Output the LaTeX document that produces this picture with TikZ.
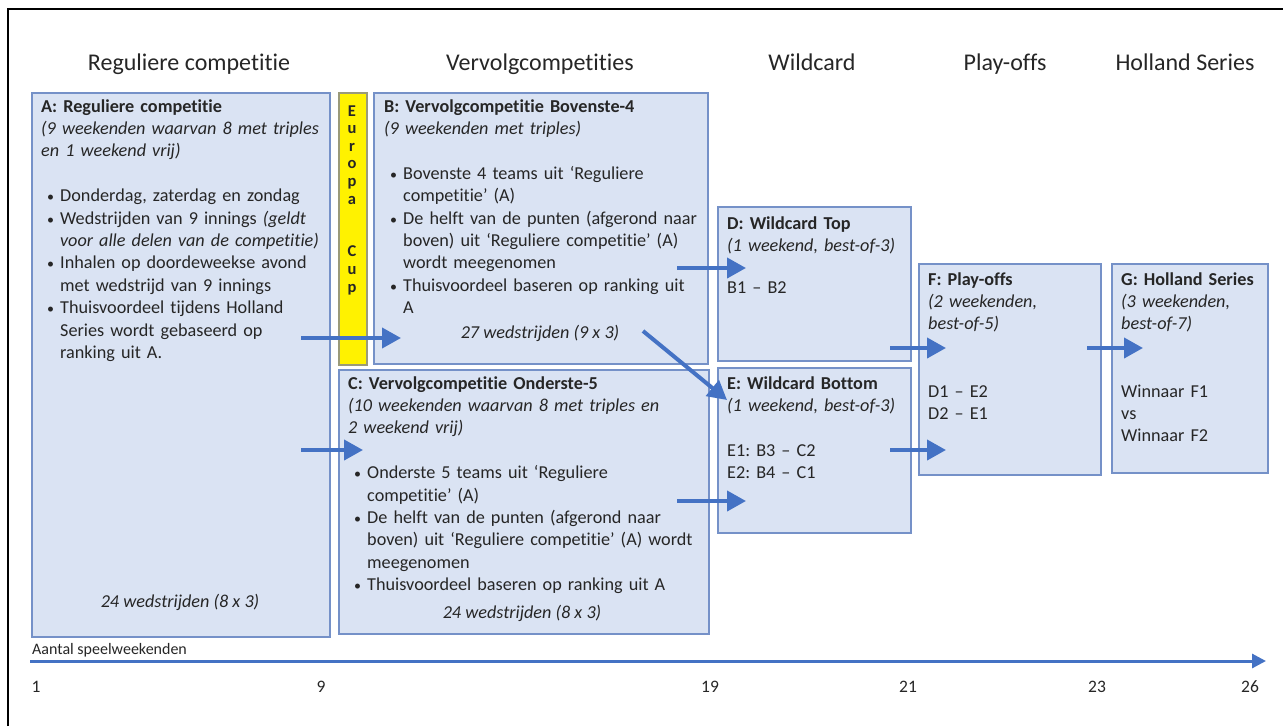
\documentclass[tikz,border=0pt]{standalone}
\usepackage{fontspec}
\setmainfont{Carlito}[RawFeature=-liga]
\usetikzlibrary{arrows.meta,calc}
\definecolor{boxfill}{HTML}{DAE3F3}
\definecolor{boxline}{HTML}{7591C8}
\definecolor{arrblue}{HTML}{4472C4}
\definecolor{txt}{HTML}{262626}
\definecolor{cupline}{HTML}{9A9A7A}
\newcommand\bul[1]{\makebox[19pt][l]{\hspace{6pt}{\fontsize{14}{14}\selectfont•}}#1}
\newcommand\cnt[1]{\hspace*{19pt}#1}
\frenchspacing
\begin{document}
\begin{tikzpicture}[x=1pt,y=-1pt,
  box/.style={draw=boxline, fill=boxfill, line width=1.6pt, anchor=north west, inner sep=0pt},
  body/.style={anchor=base west, inner sep=0pt, align=left, text width=400pt, font=\fontsize{18.2}{22.4}\selectfont, text=txt},
  ctext/.style={anchor=center, inner sep=0pt, font=\fontsize{18.2}{22.4}\selectfont\itshape, text=txt},
  head/.style={anchor=base, inner sep=0pt, font=\fontsize{24}{28}\selectfont, text=txt},
  num/.style={anchor=base, inner sep=0pt, font=\fontsize{17.5}{20}\selectfont, text=txt},
  arr/.style={draw=arrblue, line width=4pt, -{Triangle[length=19pt,width=20pt]}},
  axisline/.style={draw=arrblue, line width=3pt, -{Triangle[length=14pt,width=14pt]}},
  frame/.style={draw=black, line width=2pt}
]
\useasboundingbox (0,0) rectangle (1283,726);
% frame
\coordinate (fr0) at (8,726);
\coordinate (fr1) at (8,9);
\coordinate (fr2) at (1283,9);
\draw[frame] (fr0) -- (fr1) -- (fr2);

% headers
\node[head] (h1) at (189,70) {Reguliere competitie};
\node[head] (h2) at (540,70) {Vervolgcompetities};
\node[head] (h3) at (812,70) {Wildcard};
\node[head] (h4) at (1005,70) {Play-offs};
\node[head] (h5) at (1185,70) {Holland Series};

% boxes
\node[box, minimum width=298pt, minimum height=544pt] (A) at (31,92) {};
\node[box, draw=cupline, fill=yellow, minimum width=28pt, minimum height=272pt] (EC) at (338,92) {};
\node[box, minimum width=334pt, minimum height=271pt] (B) at (373,92) {};
\node[box, minimum width=370pt, minimum height=264pt] (C) at (338,369) {};
\node[box, minimum width=193pt, minimum height=154pt] (D) at (717,206) {};
\node[box, minimum width=193pt, minimum height=165pt] (E) at (717,367) {};
\node[box, minimum width=182pt, minimum height=211pt] (F) at (918,263) {};
\node[box, minimum width=156pt, minimum height=209pt] (G) at (1111,263) {};

% Europa Cup
\node[anchor=base, inner sep=0pt, align=center, font=\fontsize{16.5}{17.6}\selectfont\bfseries, text=txt, text width=20pt] (ECt) at (352,116)
  {E\\u\\r\\o\\p\\a\\\mbox{}\\\mbox{}\\C\\u\\p};

% Box A text
\node[body] (At) at (41,112) {\textbf{A: Reguliere competitie}\\
\textit{(9 weekenden waarvan 8 met triples}\\
\textit{en 1 weekend vrij)}\\[22.4pt]
\bul{Donderdag, zaterdag en zondag}\\
\bul{Wedstrijden van 9 innings \textit{(geldt}}\\
\cnt{\textit{voor alle delen van de competitie)}}\\
\bul{Inhalen op doordeweekse avond}\\
\cnt{met wedstrijd van 9 innings}\\
\bul{Thuisvoordeel tijdens Holland}\\
\cnt{Series wordt gebaseerd op}\\
\cnt{ranking uit A.}};
\node[ctext] (Af) at (180,602) {24 wedstrijden (8 x 3)};

% Box B text
\node[body] (Bt) at (384,112) {\textbf{B: Vervolgcompetitie Bovenste-4}\\
\textit{(9 weekenden met triples)}\\[22.4pt]
\bul{Bovenste 4 teams uit ‘Reguliere}\\
\cnt{competitie’ (A)}\\
\bul{De helft van de punten (afgerond naar}\\
\cnt{boven) uit ‘Reguliere competitie’ (A)}\\
\cnt{wordt meegenomen}\\
\bul{Thuisvoordeel baseren op ranking uit}\\
\cnt{A}};
\node[ctext] (Bf) at (540,333) {27 wedstrijden (9 x 3)};

% Box C text
\node[body] (Ct) at (348,389) {\textbf{C: Vervolgcompetitie Onderste-5}\\
\textit{(10 weekenden waarvan 8 met triples en}\\
\textit{2 weekend vrij)}\\[22.4pt]
\bul{Onderste 5 teams uit ‘Reguliere}\\
\cnt{competitie’ (A)}\\
\bul{De helft van de punten (afgerond naar}\\
\cnt{boven) uit ‘Reguliere competitie’ (A) wordt}\\
\cnt{meegenomen}\\
\bul{Thuisvoordeel baseren op ranking uit A}};
\node[ctext] (Cf) at (522,613) {24 wedstrijden (8 x 3)};

% Box D text
\node[body] (Dt) at (727,229) {\textbf{D: Wildcard Top}\\
\textit{(1 weekend, best-of-3)}\\[20pt]
B1 – B2};

% Box E text
\node[body] (Et) at (727,389) {\textbf{E: Wildcard Bottom}\\
\textit{(1 weekend, best-of-3)}\\[22.4pt]
E1: B3 – C2\\
E2: B4 – C1};

% Box F text
\node[body] (Ft) at (928,285) {\textbf{F: Play-offs}\\
\textit{(2 weekenden,}\\
\textit{best-of-5)}\\[44.8pt]
D1 – E2\\
D2 – E1};

% Box G text
\node[body] (Gt) at (1121,285) {\textbf{G: Holland Series}\\
\textit{(3 weekenden,}\\
\textit{best-of-7)}\\[44.8pt]
Winnaar F1\\
vs\\
Winnaar F2};

% arrows
\coordinate (a1s) at (301,338); \coordinate (a1e) at (401,338);
\coordinate (a2s) at (301,450); \coordinate (a2e) at (363,450);
\coordinate (a3s) at (677,268); \coordinate (a3e) at (746,268);
\coordinate (a4s) at (643,331); \coordinate (a4e) at (727,400);
\coordinate (a5s) at (677,501); \coordinate (a5e) at (746,501);
\coordinate (a6s) at (890,348); \coordinate (a6e) at (946,348);
\coordinate (a7s) at (890,450); \coordinate (a7e) at (946,450);
\coordinate (a8s) at (1087,348); \coordinate (a8e) at (1143,348);
\foreach \i in {1,...,8} {\draw[arr] (a\i s) -- (a\i e);}

% axis
\coordinate (ax0) at (30,661);
\coordinate (ax1) at (1266,661);
\draw[axisline] (ax0) -- (ax1);
\node[anchor=west, inner sep=0pt, font=\fontsize{16}{18}\selectfont, text=txt] (axl) at (32,650) {Aantal speelweekenden};
\node[num] (n1) at (36,692) {1};
\node[num] (n9) at (321,692) {9};
\node[num] (n19) at (710,692) {19};
\node[num] (n21) at (908,692) {21};
\node[num] (n23) at (1097,692) {23};
\node[num] (n26) at (1250,692) {26};
\end{tikzpicture}
\end{document}
